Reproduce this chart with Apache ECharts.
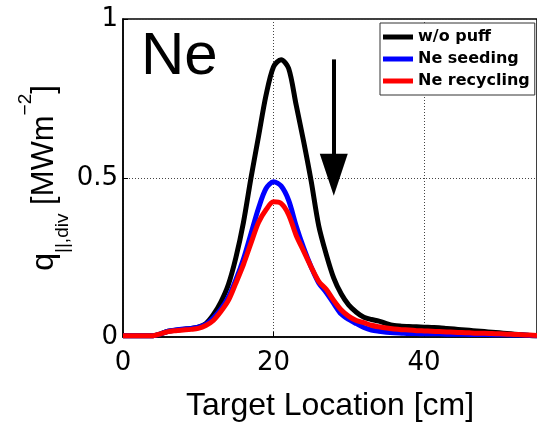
<!DOCTYPE html>
<html><head><meta charset="utf-8">
<script src="https://cdn.jsdelivr.net/npm/echarts@6/dist/echarts.min.js"></script>
<style>html,body{margin:0;padding:0;background:#fff}#c{width:537px;height:427px}</style>
</head><body><div id="c"></div>
<script>
const xs = [0,1,2,3,4,5,6,7,8,9,10,11,12,13,14,15,16,17,18,19,20,21,22,23,24,25,26,27,28,29,30,31,32,33,34,35,36,37,38,39,40,41,42,43,44,45,46,47,48,49,50,51,52,53,54,55];
const woPuff = [.004,.004,.004,.004,.004,.01,.018,.021,.024,.027,.031,.042,.07,.11,.165,.25,.36,.50,.63,.76,.85,.872,.845,.73,.615,.49,.35,.26,.185,.135,.1,.078,.062,.055,.05,.042,.036,.034,.033,.032,.031,.03,.029,.027,.025,.023,.021,.019,.017,.015,.013,.011,.009,.007,.005,.004];
const neSeeding = [.004,.004,.004,.004,.004,.01,.018,.022,.025,.027,.031,.04,.06,.087,.125,.18,.245,.325,.405,.467,.488,.475,.43,.35,.28,.22,.17,.14,.105,.072,.055,.042,.03,.022,.018,.015,.013,.012,.011,.011,.01,.01,.01,.009,.009,.009,.008,.008,.008,.007,.007,.007,.006,.006,.005,.004];
const neRecycling = [.004,.004,.004,.004,.004,.01,.017,.02,.022,.024,.027,.036,.052,.08,.115,.17,.228,.295,.36,.40,.425,.42,.385,.32,.27,.22,.175,.15,.115,.085,.065,.052,.045,.037,.032,.028,.025,.023,.022,.02,.019,.018,.017,.016,.015,.014,.013,.012,.012,.011,.01,.009,.008,.007,.006,.005];
const seriesNames = ['w/o puff','Ne seeding','Ne recycling'];
const arrowX = [28, 28];
const arrowY = [0.873, 0.5];
const arrowHead = [28, 0.51];

const pair = a => xs.map((x,i)=>[x,a[i]]);
const chart = echarts.init(document.getElementById('c'), null, {renderer:'canvas'});
chart.setOption({
  animation:false,
  backgroundColor:'#fff',
  title:{text:'Ne',left:136,top:22,textStyle:{fontFamily:'Liberation Sans',fontSize:60,fontWeight:'normal',color:'#000'}},
  grid:{left:123,top:19,width:415,height:336,show:true,borderColor:'#000',borderWidth:1.5,backgroundColor:'#fff'},
  legend:{orient:'vertical',left:380,top:23,padding:[4,5,4,3],itemGap:2,itemWidth:30,itemHeight:5,icon:'rect',
    borderColor:'#333',borderWidth:1,backgroundColor:'#fff',
    textStyle:{fontFamily:'DejaVu Sans',fontWeight:'bold',fontSize:16,color:'#000',lineHeight:20},
    data:seriesNames},
  xAxis:{type:'value',min:0,max:55,interval:20,
    name:'Target Location [cm]',nameLocation:'middle',nameGap:53,
    nameTextStyle:{fontFamily:'Liberation Sans',fontSize:32,color:'#000'},
    axisLine:{lineStyle:{color:'#000',width:1.5}},
    axisTick:{inside:true,length:5,lineStyle:{color:'#000'}},
    axisLabel:{margin:13,fontFamily:'DejaVu Sans',fontSize:26,color:'#000',showMaxLabel:false},
    splitLine:{show:true,lineStyle:{color:'#444',type:[1,2],width:1}}},
  yAxis:{type:'value',min:0,max:1,interval:0.5,
    name:'{q|q}{sub|||,div}{n| [MWm}{sup|−2}{n|]}',nameLocation:'middle',nameGap:51,nameRotate:90,nameMoveOverlap:false,
    nameTextStyle:{fontFamily:'Liberation Sans',color:'#000',
      rich:{q:{fontFamily:'Liberation Sans',fontSize:32,color:'#000',verticalAlign:'middle',lineHeight:56},
            n:{fontFamily:'Liberation Sans',fontSize:31,color:'#000',verticalAlign:'middle',lineHeight:56},
            sub:{fontFamily:'Liberation Sans',fontSize:19,color:'#000',verticalAlign:'bottom',lineHeight:20},
            sup:{fontFamily:'Liberation Sans',fontSize:19,color:'#000',verticalAlign:'top',lineHeight:44}}},
    axisLine:{lineStyle:{color:'#000',width:1.5}},
    axisTick:{inside:true,length:5,lineStyle:{color:'#000'}},
    axisLabel:{margin:5,fontFamily:'DejaVu Sans',fontSize:26,color:'#000'},
    splitLine:{show:true,lineStyle:{color:'#444',type:[1,2],width:1}}},
  series:[
    {name:seriesNames[0],type:'line',data:pair(woPuff),showSymbol:false,smooth:0.3,lineStyle:{color:'#000',width:5},itemStyle:{color:'#000'},
     markLine:{silent:true,symbol:['none','none'],label:{show:false},
       lineStyle:{color:'#000',width:4,type:'solid'},
       data:[[{coord:[arrowX[0],arrowY[0]]},{coord:[arrowX[1],arrowY[1]]}]]},
     markPoint:{silent:true,symbol:'triangle',symbolSize:[28,42],symbolRotate:180,label:{show:false},
       itemStyle:{color:'#000'},data:[{coord:arrowHead}]}},
    {name:seriesNames[1],type:'line',data:pair(neSeeding),showSymbol:false,smooth:0.3,lineStyle:{color:'#0000ff',width:5},itemStyle:{color:'#0000ff'}},
    {name:seriesNames[2],type:'line',data:pair(neRecycling),showSymbol:false,smooth:0.3,lineStyle:{color:'#ff0000',width:5},itemStyle:{color:'#ff0000'}}
  ]
});
</script></body></html>
